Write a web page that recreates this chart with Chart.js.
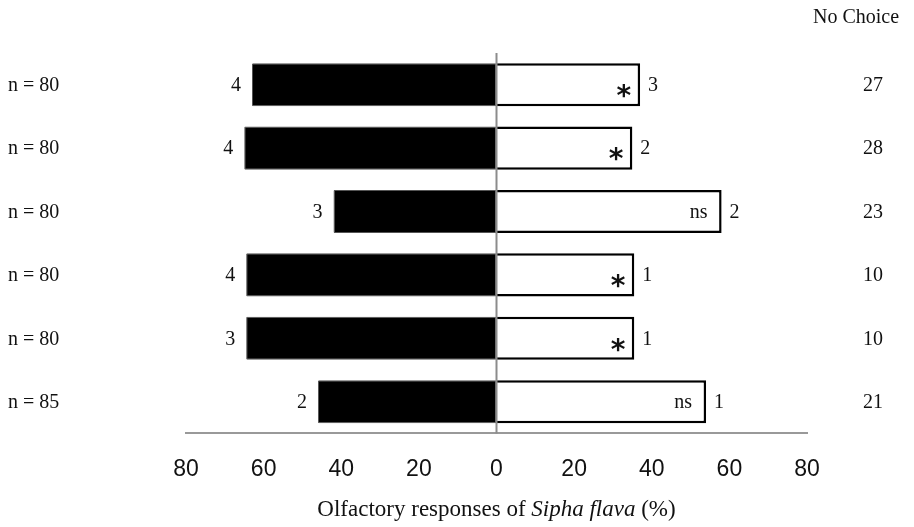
<!DOCTYPE html>
<html>
<head>
<meta charset="utf-8">
<script src="https://cdn.jsdelivr.net/npm/chart.js@4"></script>
<style>
  body { margin: 0; background: #fff; }
  #wrap { width: 914px; height: 527px; }
</style>
</head>
<body>
<div id="wrap"><canvas id="olfChart"></canvas></div>
<script>
// values (percent choosing each arm)
var rows = ['r1', 'r2', 'r3', 'r4', 'r5', 'r6'];
var leftPct = [63, 65, 42, 64.5, 64.5, 46];
var rightPct = [37, 35, 58, 35.5, 35.5, 54];
var leftCount = ['4', '4', '3', '4', '3', '2'];
var rightCount = ['3', '2', '2', '1', '1', '1'];
var noChoice = ['27', '28', '23', '10', '10', '21'];
var nTotal = ['80', '80', '80', '80', '80', '85'];
var sig = ['*', '*', 'ns', '*', '*', 'ns'];
var xTicks = [-80, -60, -40, -20, 0, 20, 40, 60, 80];

var serif = '"Liberation Serif", "Times New Roman", serif';

var labelPlugin = {
  id: 'labels',
  afterDatasetsDraw: function(chart) {
    var ctx = chart.ctx;
    var xs = chart.scales.x;
    var area = chart.chartArea;
    var left = chart.getDatasetMeta(0).data;
    var right = chart.getDatasetMeta(1).data;
    ctx.save();
    // zero line
    ctx.strokeStyle = '#8c8c8c';
    ctx.lineWidth = 2;
    ctx.beginPath();
    ctx.moveTo(xs.getPixelForValue(0), area.top);
    ctx.lineTo(xs.getPixelForValue(0), area.bottom);
    ctx.stroke();

    ctx.fillStyle = '#111';
    ctx.textBaseline = 'middle';
    ctx.font = '20px ' + serif;
    ctx.textAlign = 'center';
    ctx.fillText('No Choice', 856, 18);
    for (var i = 0; i < rows.length; i++) {
      var lb = left[i], rb = right[i];
      var y = lb.y + 1;
      ctx.font = '20px ' + serif;
      ctx.textAlign = 'left';
      ctx.fillText('n = ' + nTotal[i], 8, y);
      ctx.textAlign = 'right';
      ctx.fillText(leftCount[i], lb.x - 11, y);
      ctx.textAlign = 'left';
      ctx.fillText(rightCount[i], rb.x + 8, y);
      ctx.textAlign = 'center';
      ctx.fillText(noChoice[i], 873, y);
      if (sig[i] === '*') {
        ctx.font = 'bold 28px "DejaVu Sans", sans-serif';
        ctx.textAlign = 'right';
        ctx.fillText('*', rb.x - 9, y + 12);
      } else {
        ctx.font = '20px ' + serif;
        ctx.textAlign = 'right';
        ctx.fillText(sig[i], rb.x - 14, y);
      }
    }
    // axis title with italic species name
    var parts = [['Olfactory responses of ', ''], ['Sipha flava', 'italic '], [' (%)', '']];
    var total = 0;
    parts.forEach(function(p) { ctx.font = p[1] + '23px ' + serif; total += ctx.measureText(p[0]).width; });
    var x = (xs.getPixelForValue(0)) - total / 2;
    ctx.textAlign = 'left';
    parts.forEach(function(p) {
      ctx.font = p[1] + '23px ' + serif;
      ctx.fillText(p[0], x, 510);
      x += ctx.measureText(p[0]).width;
    });
    ctx.restore();
  }
};

new Chart(document.getElementById('olfChart'), {
  type: 'bar',
  data: {
    labels: rows,
    datasets: [{
      data: leftPct.map(function(v) { return -v; }),
      backgroundColor: '#000',
      borderColor: '#555',
      borderWidth: 1,
      borderSkipped: false,
      borderRadius: 1
    }, {
      data: rightPct,
      backgroundColor: '#fff',
      borderColor: '#000',
      borderWidth: 2.5,
      borderSkipped: 'left'
    }]
  },
  options: {
    indexAxis: 'y',
    responsive: true,
    maintainAspectRatio: false,
    animation: false,
    layout: { padding: { left: 186, right: 107, top: 53, bottom: 22 } },
    plugins: { legend: { display: false }, tooltip: { enabled: false } },
    scales: {
      x: {
        min: -80, max: 80,
        afterBuildTicks: function(scale) { scale.ticks = xTicks.map(function(v) { return { value: v }; }); },
        grid: { display: false, drawTicks: false },
        border: { display: true, color: '#999', width: 2 },
        ticks: {
          padding: 22,
          color: '#111',
          font: { family: '"Liberation Sans", Arial, sans-serif', size: 23 },
          callback: function(v) { return Math.abs(v); }
        }
      },
      y: {
        stacked: true,
        display: false
      }
    },
    datasets: { bar: { barPercentage: 0.68, categoryPercentage: 1 } }
  },
  plugins: [labelPlugin]
});
</script>
</body>
</html>
